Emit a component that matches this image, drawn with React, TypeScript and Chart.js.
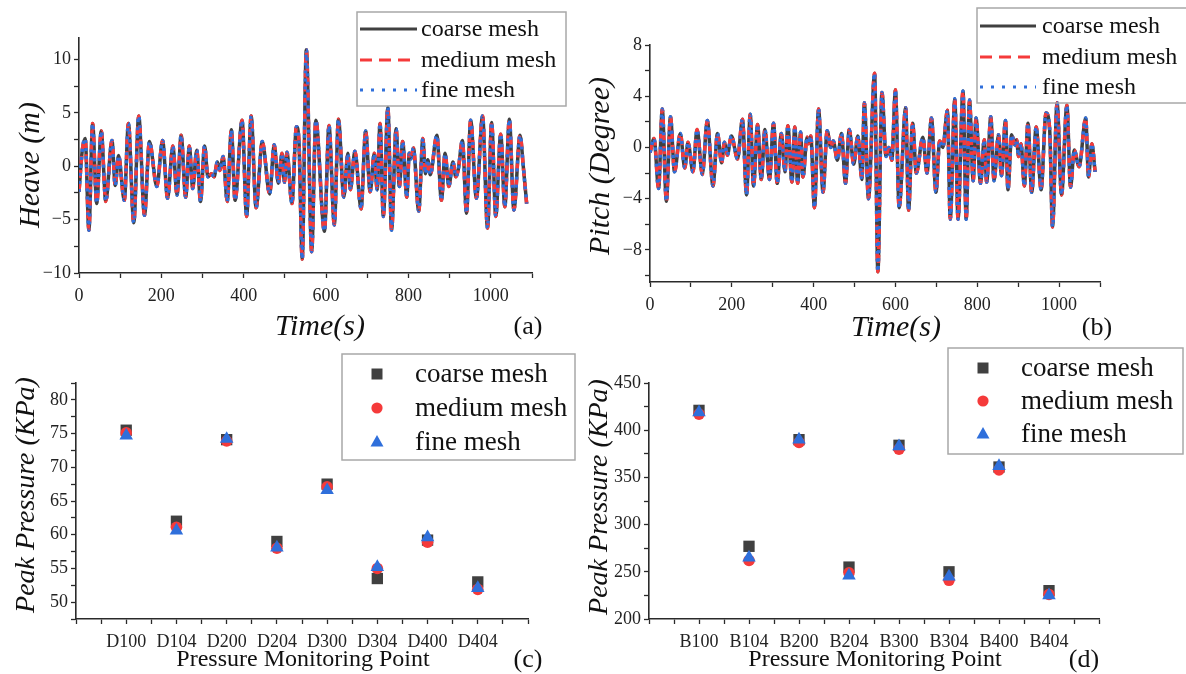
import React, { useEffect, useRef } from 'react';
import { Chart, registerables } from 'chart.js';
Chart.register(...registerables);

const W = 1186;
const H = 674;

// ---------- data ----------
const meshNames = ['coarse mesh', 'medium mesh', 'fine mesh'];

const heaveTime = [0, 8, 15, 24, 33, 43, 54, 65, 80, 88, 96, 110, 120, 133, 145, 159, 171, 189, 203, 215, 228, 238, 248, 259, 268, 276, 286, 295, 305, 313, 322, 328, 336, 342, 350, 360, 370, 379, 396, 407, 418, 430, 445, 463, 474, 484, 493, 499, 505, 517, 528, 534, 542, 552, 565, 575, 596, 607, 620, 630, 643, 653, 659, 670, 685, 696, 707, 717, 724, 731, 739, 750, 759, 770, 778, 786, 796, 802, 806, 812, 825, 835, 841, 847, 853, 869, 880, 889, 898, 908, 915, 921, 931, 941, 951, 965, 980, 992, 1002, 1012, 1024, 1034, 1045, 1056, 1071, 1079, 1087];
const heaveValue = [-2.4, 1.5, 2.6, -6.0, 4.0, -3.5, 3.3, -3.3, 2.4, -1.8, 1.0, -3.2, 4.0, -5.3, 4.7, -4.6, 2.3, -1.9, 2.4, -3.0, 1.9, -2.7, 2.9, -2.9, 1.9, -2.1, 1.5, -3.3, 1.9, -1.0, -0.7, -1.0, 0.4, -0.4, 0.9, -3.3, 3.4, -3.2, 4.3, -4.7, 4.7, -3.9, 2.3, -2.6, 2.0, -1.6, 1.2, -1.5, 1.3, -3.5, 3.7, 2.4, -8.7, 10.9, -8.0, 4.3, -6.1, 3.8, -5.5, 4.4, -2.9, 1.2, -2.2, 1.4, -4.0, 3.3, -2.4, 1.2, -2.2, 4.0, -4.7, 5.5, -6.0, 3.5, -1.9, 2.3, -2.9, 1.2, 0.7, 1.7, -4.2, 2.6, -0.7, 0.6, -0.8, 2.9, -3.2, 1.2, -1.9, 0.4, -1.0, -0.3, 2.4, -4.4, 4.3, -3.0, 4.7, -5.8, 4.1, -4.7, 3.0, -3.8, 4.4, -4.1, 2.9, -0.1, -3.5];

const pitchTime = [0, 10, 21, 30, 40, 50, 60, 74, 85, 93, 105, 115, 128, 140, 154, 165, 175, 182, 189, 199, 214, 226, 236, 245, 253, 263, 272, 281, 292, 302, 311, 321, 330, 337, 347, 354, 361, 368, 374, 384, 388, 393, 402, 412, 423, 433, 442, 448, 458, 468, 478, 487, 498, 508, 518, 524, 534, 549, 557, 567, 577, 584, 591, 600, 609, 625, 632, 642, 651, 667, 677, 688, 699, 708, 716, 727, 734, 745, 753, 765, 773, 781, 790, 797, 808, 817, 823, 833, 841, 852, 859, 869, 875, 884, 892, 896, 901, 907, 915, 924, 933, 944, 956, 968, 977, 984, 995, 1006, 1019, 1028, 1037, 1049, 1065, 1072, 1080, 1088];
const pitchValue = [-0.4, 0.7, -3.2, 3.0, -4.2, 2.4, -1.9, 1.1, -1.6, 0.4, -1.9, 1.4, -2.1, 2.1, -3.0, 1.1, -1.2, 0.4, -0.6, 0.9, -0.9, 2.2, -3.7, 2.6, -3.0, 1.8, -2.5, 1.4, -2.5, 1.9, -2.8, 1.1, -1.9, 1.7, -2.7, 1.6, -2.8, 1.2, -2.3, 0.8, 0.3, 0.9, -4.7, 3.0, -3.5, 1.3, 0.0, 0.5, -1.0, 1.1, -2.8, 1.4, -1.3, 0.9, -2.5, 3.5, -4.0, 5.8, -9.7, 4.3, -0.7, 0.0, -1.0, 4.5, -4.7, 3.1, -4.9, 1.9, -2.0, 0.8, -2.0, 2.3, -3.5, 0.5, 0.0, 2.9, -5.6, 3.8, -5.6, 4.4, -5.6, 3.7, -2.6, 2.3, -2.8, 0.6, -2.7, 2.4, -2.6, 1.0, -2.2, 2.1, -3.3, 1.0, 0.2, 0.6, -0.7, 0.3, -3.0, 1.9, -3.5, 1.6, -3.3, 2.7, 1.4, -6.2, 3.5, -3.7, 3.3, -3.1, -0.2, -1.5, 2.3, -2.3, 0.3, -1.9];

const deckPoints = ['D100', 'D104', 'D200', 'D204', 'D300', 'D304', 'D400', 'D404'];
const deckCoarse = [75.5, 62.0, 74.1, 59.0, 67.5, 53.5, 59.2, 53.0];
const deckMedium = [75.1, 61.1, 73.9, 58.0, 67.1, 55.0, 58.9, 51.9];
const deckFine = [74.7, 60.6, 74.2, 58.1, 66.6, 55.2, 59.6, 52.1];

const bottomPoints = ['B100', 'B104', 'B200', 'B204', 'B300', 'B304', 'B400', 'B404'];
const bottomCoarse = [421, 277, 390, 255, 384, 250, 361, 230];
const bottomMedium = [417, 262, 387, 249, 380, 241, 358, 226];
const bottomFine = [419, 265, 390, 246, 383, 245, 362, 225];

const timeLabels = [0, 200, 400, 600, 800, 1000];
const heaveLabels = [-10, -5, 0, 5, 10];
const pitchLabels = [-8, -4, 0, 4, 8];
const deckLabels = [50, 55, 60, 65, 70, 75, 80];
const bottomLabels = [200, 250, 300, 350, 400, 450];

// ---------- styles ----------
const COARSE = '#404040';
const MEDIUM = '#f53a3a';
const FINE = '#2f6fdb';
const AXIS = '#2a2a2a';
const FONT = "'Liberation Serif', 'Times New Roman', serif";

type Area = { left: number; right: number; top: number; bottom: number };

const range = (a: number, b: number, s: number) => {
  const out: number[] = [];
  for (let v = a; v <= b + 1e-9; v += s) out.push(Math.round(v * 1000) / 1000);
  return out;
};
const fmt = (v: number) => String(v).replace('-', '\u2212');

function scaleOpts(area: Area, axis: 'x' | 'y', min: number, max: number, tickVals: number[], label: (v: number) => string) {
  return {
    type: 'linear',
    min,
    max,
    afterBuildTicks: (s: any) => {
      s.ticks = tickVals.map((v) => ({ value: v }));
    },
    afterFit: (s: any) => {
      if (axis === 'y') s.width = area.left;
      else s.height = H - area.bottom;
    },
    grid: { display: true, drawOnChartArea: false, drawTicks: true, tickLength: 5, color: AXIS, tickWidth: 1.3 },
    border: { display: true, color: AXIS, width: 1.6 },
    ticks: {
      autoSkip: false,
      maxRotation: 0,
      minRotation: 0,
      padding: axis === 'y' ? 3 : 7,
      color: '#222',
      font: { family: FONT, size: 18 },
      callback: (v: any) => label(Number(v)),
    },
  };
}

type TextItem = { text: string; x: number; y: number; size: number; italic?: boolean; rotate?: boolean };
type LegendSpec = {
  box: [number, number, number, number];
  rows: number[];
  sampleX: [number, number];
  textX: number;
  size: number;
  kind: 'line' | 'marker';
};

const overlayPlugin = {
  id: 'overlay',
  afterDraw(chart: any, _args: any, opts: any) {
    const ctx = chart.ctx as CanvasRenderingContext2D;
    ctx.save();
    const texts: TextItem[] = opts.texts || [];
    for (const t of texts) {
      ctx.save();
      ctx.fillStyle = '#111';
      ctx.font = `${t.italic ? 'italic ' : ''}${t.size}px ${FONT}`;
      ctx.textAlign = 'center';
      ctx.textBaseline = 'middle';
      ctx.translate(t.x, t.y);
      if (t.rotate) ctx.rotate(-Math.PI / 2);
      ctx.fillText(t.text, 0, 0);
      ctx.restore();
    }
    const lg: LegendSpec | undefined = opts.legend;
    if (lg) {
      ctx.strokeStyle = '#a8a8a8';
      ctx.lineWidth = 1.5;
      ctx.setLineDash([]);
      ctx.strokeRect(lg.box[0], lg.box[1], lg.box[2], lg.box[3]);
      const colors = [COARSE, MEDIUM, FINE];
      const dashes = [[], [12, 7], [3, 8]];
      meshNames.forEach((name, i) => {
        const y = lg.rows[i];
        if (lg.kind === 'line') {
          ctx.beginPath();
          ctx.strokeStyle = colors[i];
          ctx.lineWidth = 3;
          ctx.setLineDash(dashes[i]);
          ctx.moveTo(lg.sampleX[0], y);
          ctx.lineTo(lg.sampleX[1], y);
          ctx.stroke();
          ctx.setLineDash([]);
        } else {
          const cx = lg.sampleX[0];
          ctx.fillStyle = colors[i];
          ctx.beginPath();
          if (i === 0) ctx.rect(cx - 5.5, y - 5.5, 11, 11);
          else if (i === 1) ctx.arc(cx, y, 5.6, 0, Math.PI * 2);
          else {
            ctx.moveTo(cx, y - 7);
            ctx.lineTo(cx + 6.5, y + 4.5);
            ctx.lineTo(cx - 6.5, y + 4.5);
            ctx.closePath();
          }
          ctx.fill();
        }
        ctx.fillStyle = '#111';
        ctx.font = `${lg.size}px ${FONT}`;
        ctx.textAlign = 'left';
        ctx.textBaseline = 'middle';
        ctx.fillText(name, lg.textX, y + 1);
      });
    }
    ctx.restore();
  },
};

function baseOptions(area: Area, scales: any, overlay: any) {
  return {
    responsive: false,
    maintainAspectRatio: false,
    animation: false,
    devicePixelRatio: 1,
    layout: { padding: { left: 0, top: area.top, right: W - area.right, bottom: 0 } },
    plugins: { legend: { display: false }, tooltip: { enabled: false }, title: { display: false }, overlay },
    scales,
    events: [],
  };
}

function lineConfig(time: number[], values: number[], area: Area, yMin: number, yMax: number, yTicks: number[], yLabels: number[], overlay: any) {
  const pts = time.map((t, i) => ({ x: t, y: values[i] }));
  const common = { data: pts, pointRadius: 0, borderWidth: 3.5, fill: false, cubicInterpolationMode: 'monotone' };
  return {
    type: 'line',
    data: {
      datasets: [
        { ...common, label: meshNames[0], borderColor: COARSE, order: 3 },
        { ...common, label: meshNames[1], borderColor: MEDIUM, borderDash: [8, 6], order: 2 },
        { ...common, label: meshNames[2], borderColor: FINE, borderDash: [3, 5], order: 1 },
      ],
    },
    options: baseOptions(
      area,
      {
        x: scaleOpts(area, 'x', 0, 1100, range(0, 1100, 100), (v) => (timeLabels.includes(v) ? String(v) : '')),
        y: scaleOpts(area, 'y', yMin, yMax, yTicks, (v) => (yLabels.includes(v) ? fmt(v) : '')),
      },
      overlay
    ),
    plugins: [overlayPlugin],
  };
}

function scatterConfig(names: string[], c: number[], m: number[], f: number[], area: Area, yMin: number, yMax: number, yTicks: number[], yLabels: number[], overlay: any) {
  const mk = (arr: number[]) => arr.map((v, i) => ({ x: i + 1, y: v }));
  return {
    type: 'scatter',
    data: {
      datasets: [
        { label: meshNames[0], data: mk(c), pointStyle: 'rect', pointRadius: 8, backgroundColor: COARSE, borderColor: COARSE, borderWidth: 0, order: 3 },
        { label: meshNames[1], data: mk(m), pointStyle: 'circle', pointRadius: 5.8, backgroundColor: MEDIUM, borderColor: MEDIUM, borderWidth: 0, order: 2 },
        { label: meshNames[2], data: mk(f), pointStyle: 'triangle', pointRadius: 7.8, backgroundColor: FINE, borderColor: FINE, borderWidth: 0, order: 1 },
      ],
    },
    options: baseOptions(
      area,
      {
        x: scaleOpts(area, 'x', 0, 9, range(0, 9, 0.5), (v) => (Number.isInteger(v) && v >= 1 && v <= names.length ? names[v - 1] : '')),
        y: scaleOpts(area, 'y', yMin, yMax, yTicks, (v) => (yLabels.includes(v) ? fmt(v) : '')),
      },
      overlay
    ),
    plugins: [overlayPlugin],
  };
}

const heaveArea: Area = { left: 79, right: 532, top: 38, bottom: 273 };
const pitchArea: Area = { left: 650, right: 1100, top: 45, bottom: 282 };
const deckArea: Area = { left: 76, right: 528, top: 383, bottom: 619 };
const bottomArea: Area = { left: 649, right: 1099, top: 383, bottom: 619 };

function makeConfigs() {
  return [
    lineConfig(heaveTime, heaveValue, heaveArea, -10, 12, range(-10, 10, 2.5), heaveLabels, {
      texts: [
        { text: 'Heave (m)', x: 31, y: 165, size: 30, italic: true, rotate: true },
        { text: 'Time(s)', x: 320, y: 327, size: 30, italic: true },
        { text: '(a)', x: 528, y: 327, size: 26 },
      ],
      legend: { box: [357, 12, 209, 94], rows: [29, 60, 90], sampleX: [360, 417], textX: 421, size: 24, kind: 'line' },
    }),
    lineConfig(pitchTime, pitchValue, pitchArea, -10.5, 8, range(-10, 8, 2), pitchLabels, {
      texts: [
        { text: 'Pitch (Degree)', x: 601, y: 166, size: 30, italic: true, rotate: true },
        { text: 'Time(s)', x: 896, y: 328, size: 30, italic: true },
        { text: '(b)', x: 1097, y: 328, size: 26 },
      ],
      legend: { box: [977, 8, 215, 95], rows: [26, 57, 87], sampleX: [980, 1036], textX: 1042, size: 24, kind: 'line' },
    }),
    scatterConfig(deckPoints, deckCoarse, deckMedium, deckFine, deckArea, 47.5, 82.5, range(47.5, 82.5, 2.5), deckLabels, {
      texts: [
        { text: 'Peak Pressure (KPa)', x: 27, y: 495, size: 28, italic: true, rotate: true },
        { text: 'Pressure Monitoring Point', x: 303, y: 660, size: 24 },
        { text: '(c)', x: 528, y: 660, size: 26 },
      ],
      legend: { box: [342, 354, 233, 106], rows: [374, 408, 442], sampleX: [377, 377], textX: 415, size: 27, kind: 'marker' },
    }),
    scatterConfig(bottomPoints, bottomCoarse, bottomMedium, bottomFine, bottomArea, 200, 450, range(200, 450, 25), bottomLabels, {
      texts: [
        { text: 'Peak Pressure (KPa)', x: 600, y: 497, size: 28, italic: true, rotate: true },
        { text: 'Pressure Monitoring Point', x: 875, y: 660, size: 24 },
        { text: '(d)', x: 1084, y: 660, size: 26 },
      ],
      legend: { box: [948, 348, 235, 106], rows: [368, 401, 434], sampleX: [983, 983], textX: 1021, size: 27, kind: 'marker' },
    }),
  ];
}

export default function App() {
  const refs = [useRef<HTMLCanvasElement>(null), useRef<HTMLCanvasElement>(null), useRef<HTMLCanvasElement>(null), useRef<HTMLCanvasElement>(null)];
  useEffect(() => {
    const cfgs = makeConfigs();
    const charts = cfgs.map((cfg, i) => new Chart(refs[i].current as HTMLCanvasElement, cfg as any));
    return () => charts.forEach((c) => c.destroy());
  }, []);
  return (
    <div style={{ position: 'fixed', left: 0, top: 0, width: W, height: H, background: '#ffffff', overflow: 'hidden' }}>
      {refs.map((r, i) => (
        <canvas key={i} ref={r} width={W} height={H} style={{ position: 'absolute', left: 0, top: 0, width: W, height: H }} />
      ))}
    </div>
  );
}
